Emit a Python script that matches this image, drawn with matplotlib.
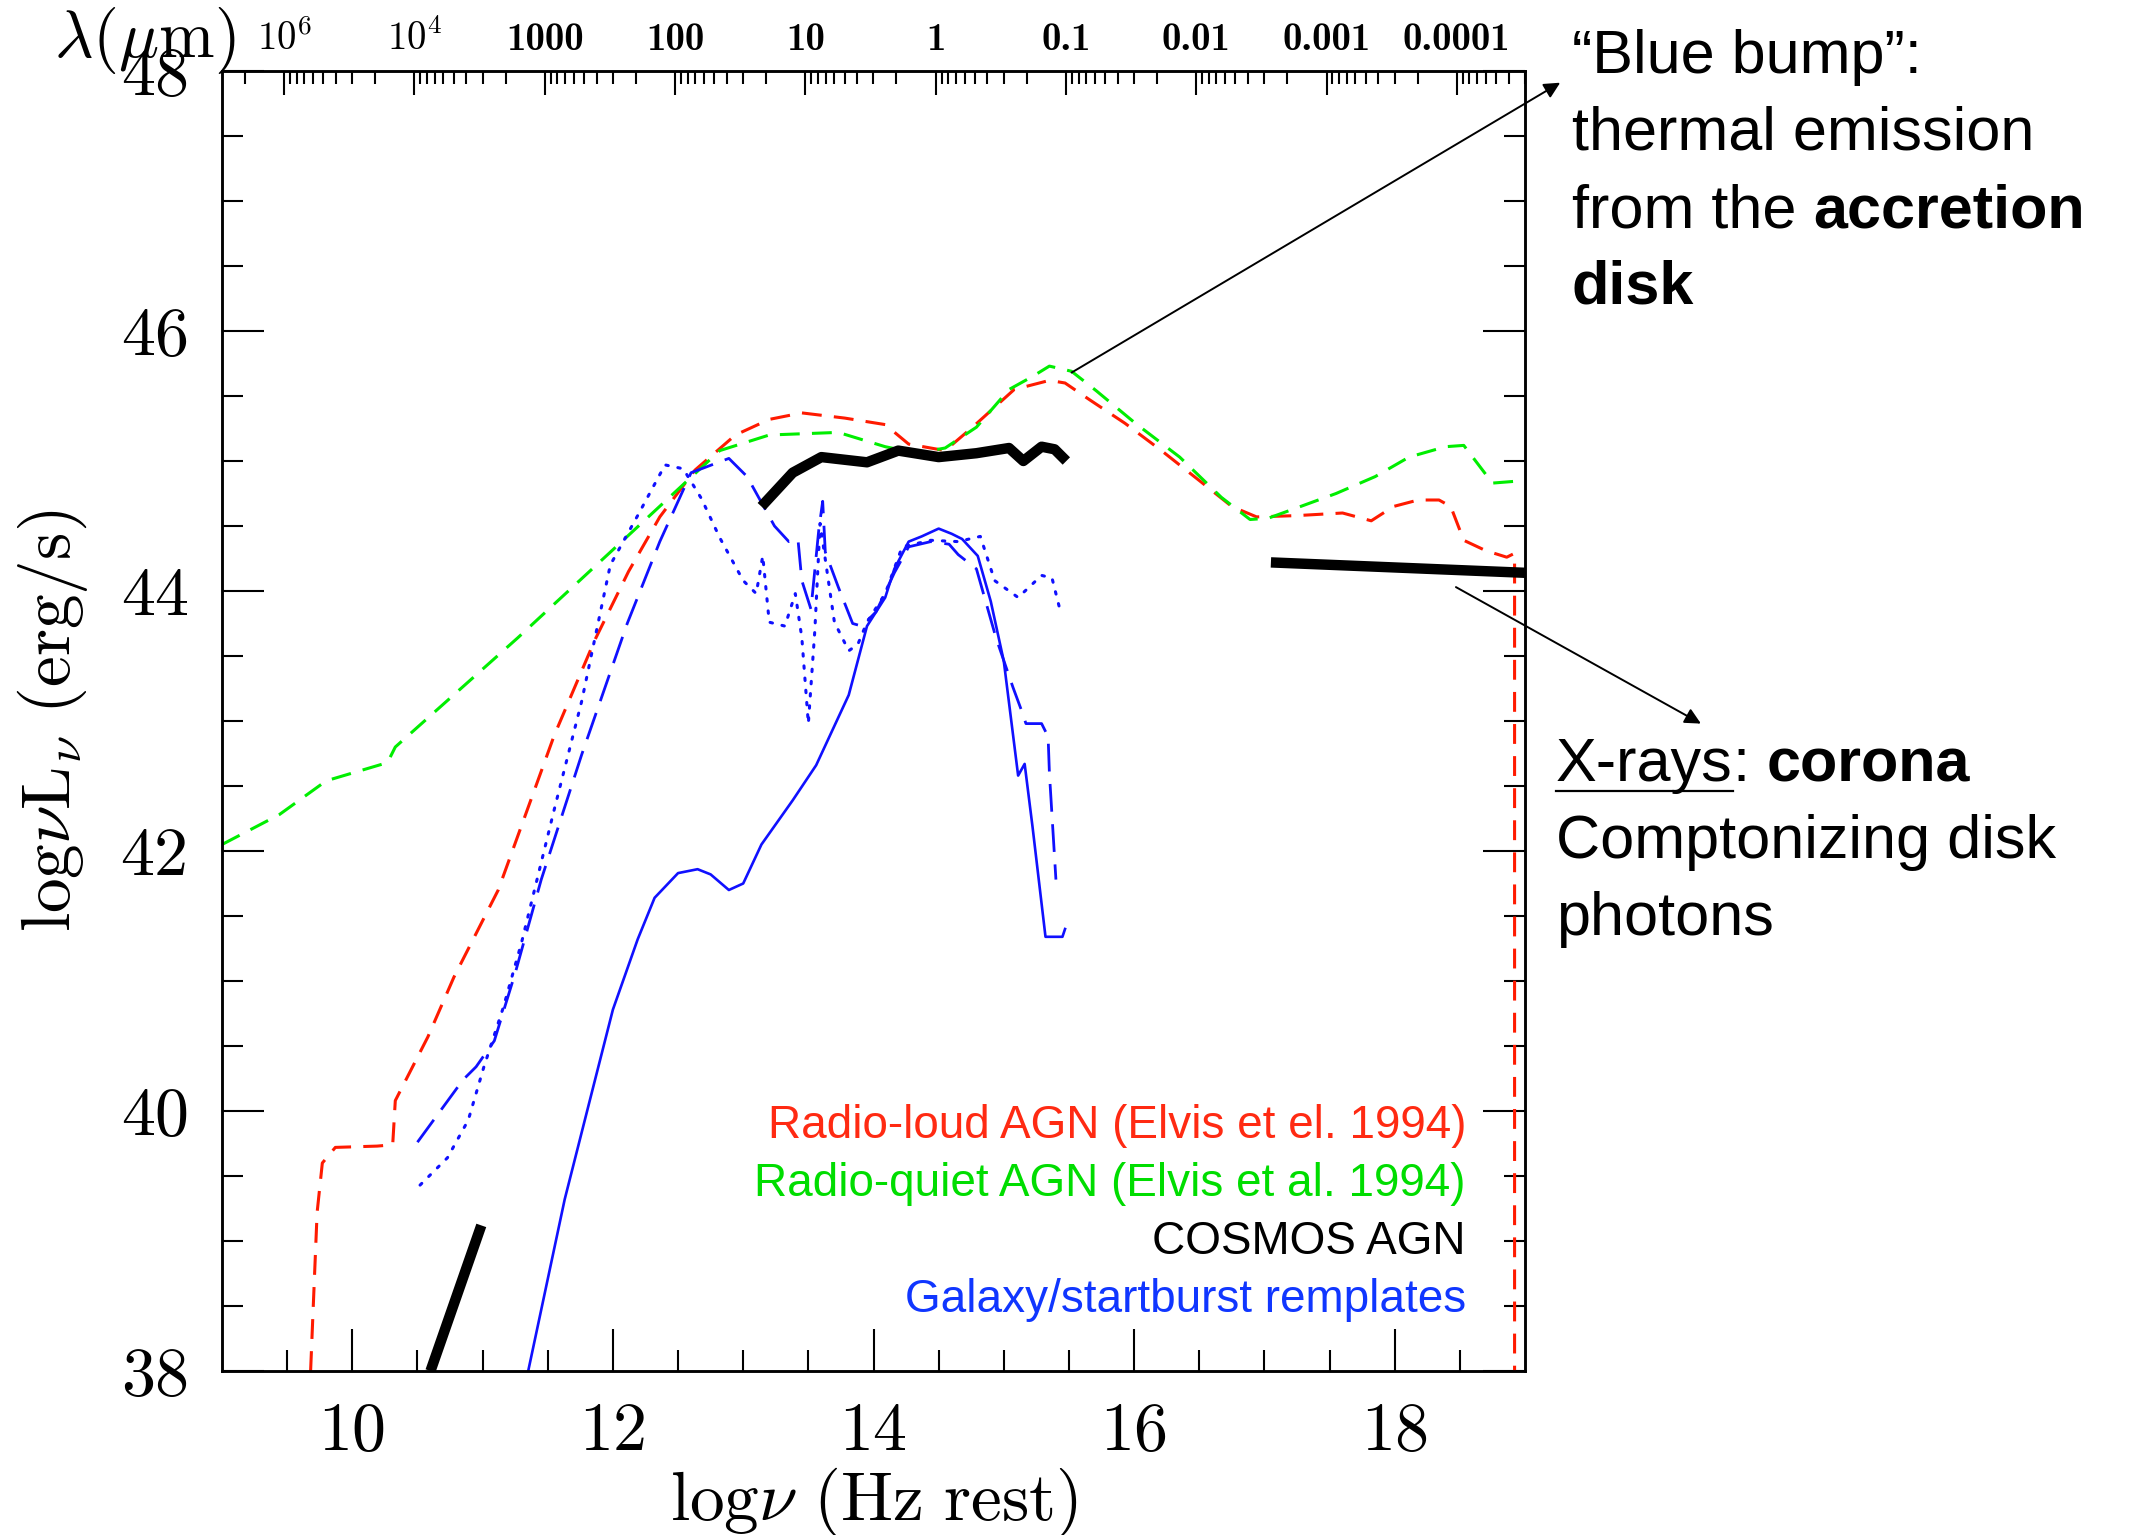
import numpy as np
import matplotlib.pyplot as plt
from matplotlib.lines import Line2D

plt.rcParams['mathtext.fontset'] = 'cm'

W, H, DPI = 2135, 1535, 100
SANS = ['Liberation Sans', 'DejaVu Sans']

# Radio-loud AGN (Elvis et al. 1994)
loud_x = [9.68, 9.73, 9.77, 9.87, 10.19, 10.31, 10.33, 10.58, 10.78, 11.12, 11.55, 11.86,
          12.12, 12.36, 12.63, 12.94, 13.2, 13.45, 13.78, 14.09, 14.27, 14.55, 14.76, 15.08,
          15.35, 15.47, 15.66, 15.93, 16.21, 16.5, 16.75, 16.94, 17.25, 17.6, 17.82, 17.99,
          18.18, 18.34, 18.43, 18.53, 18.7, 18.86, 18.92, 18.92]
loud_y = [38.0, 39.22, 39.6, 39.72, 39.73, 39.74, 40.08, 40.57, 41.03, 41.7, 42.89, 43.62,
          44.15, 44.57, 44.93, 45.2, 45.32, 45.37, 45.33, 45.28, 45.13, 45.08, 45.26, 45.55,
          45.62, 45.6, 45.47, 45.29, 45.08, 44.85, 44.65, 44.57, 44.58, 44.6, 44.54, 44.65,
          44.7, 44.7, 44.65, 44.39, 44.31, 44.26, 44.29, 37.9]

# Radio-quiet AGN (Elvis et al. 1994)
quiet_x = [9.0, 9.44, 9.8, 10.27, 10.33, 11.27, 12.1, 12.82, 13.2, 13.73, 14.09, 14.33,
           14.55, 14.79, 15.04, 15.22, 15.35, 15.52, 15.71, 16.01, 16.35, 16.67, 16.89,
           17.03, 17.25, 17.55, 17.85, 18.11, 18.39, 18.53, 18.75, 19.0]
quiet_y = [42.05, 42.28, 42.54, 42.68, 42.8, 43.64, 44.41, 45.08, 45.2, 45.22, 45.11, 45.06,
           45.1, 45.26, 45.55, 45.65, 45.73, 45.69, 45.54, 45.29, 45.03, 44.72, 44.55,
           44.56, 44.64, 44.75, 44.88, 45.03, 45.11, 45.12, 44.83, 44.85]

# COSMOS AGN (three pieces)
cosmos_radio_x = [10.6, 10.99]
cosmos_radio_y = [38.0, 39.12]
cosmos_opt_x = [13.14, 13.38, 13.6, 13.95, 14.19, 14.5, 14.79, 15.04, 15.15, 15.29, 15.39, 15.48]
cosmos_opt_y = [44.65, 44.91, 45.03, 44.99, 45.08, 45.03, 45.06, 45.1, 45.0, 45.11, 45.09, 45.0]
cosmos_xray_x = [17.05, 19.0]
cosmos_xray_y = [44.22, 44.14]

# Galaxy / starburst templates
gal_solid_x = [11.35, 11.63, 11.83, 12.0, 12.19, 12.32, 12.5, 12.65, 12.75, 12.89, 13.0, 13.14,
               13.38, 13.56, 13.81, 13.95, 14.09, 14.16, 14.27, 14.37, 14.5, 14.6, 14.68, 14.8,
               14.9, 15.0, 15.11, 15.16, 15.22, 15.32, 15.45, 15.47]
gal_solid_y = [38.0, 39.32, 40.11, 40.78, 41.32, 41.64, 41.83, 41.86, 41.82, 41.7, 41.75, 42.05,
               42.39, 42.66, 43.2, 43.73, 43.95, 44.17, 44.38, 44.42, 44.48, 44.44, 44.4, 44.27,
               43.92, 43.46, 42.58, 42.67, 42.19, 41.34, 41.34, 41.4]

gal_dash_x = [10.5, 10.85, 10.95, 11.09, 11.25, 11.45, 11.76, 12.11, 12.36, 12.6, 12.89, 13.03,
              13.24, 13.35, 13.42, 13.45, 13.52, 13.58, 13.61, 13.63, 13.73, 13.84, 13.91, 14.02,
              14.16, 14.27, 14.44, 14.58, 14.65, 14.79, 14.94, 15.07, 15.14, 15.17, 15.29, 15.34,
              15.35, 15.4]
gal_dash_y = [39.76, 40.24, 40.34, 40.54, 41.06, 41.78, 42.74, 43.75, 44.38, 44.91, 45.02, 44.88,
              44.5, 44.38, 44.4, 44.08, 43.86, 44.47, 44.69, 44.3, 44.03, 43.75, 43.73, 43.84,
              44.14, 44.34, 44.38, 44.36, 44.28, 44.17, 43.64, 43.26, 43.07, 42.98, 42.98, 42.88,
              42.6, 41.78]

gal_dot_x = [10.52, 10.73, 10.89, 11.01, 11.16, 11.3, 11.55, 11.76, 11.98, 12.19, 12.4, 12.54,
             12.68, 12.82, 13.0, 13.1, 13.15, 13.2, 13.32, 13.4, 13.45, 13.5, 13.55, 13.59,
             13.7, 13.81, 13.88, 13.95, 14.09, 14.22, 14.44, 14.65, 14.82, 14.93, 15.11, 15.29,
             15.37, 15.43]
gal_dot_y = [39.43, 39.64, 39.93, 40.34, 40.8, 41.3, 42.32, 43.15, 44.2, 44.58, 44.97, 44.94,
             44.71, 44.41, 44.08, 43.98, 44.27, 43.76, 43.73, 43.98, 43.64, 42.98, 43.7, 44.52,
             43.76, 43.54, 43.59, 43.76, 43.98, 44.34, 44.39, 44.38, 44.42, 44.08, 43.95, 44.12,
             44.1, 43.86]

# top axis: wavelength in micron
lam_labels = [r'$\mathbf{10^6}$', r'$\mathbf{10^4}$', '1000', '100', '10', '1',
              '0.1', '0.01', '0.001', '0.0001']
lam_exps = [5, 4, 3, 2, 1, 0, -1, -2, -3, -4]

legend_lines = ['Radio-loud AGN (Elvis et el. 1994)', 'Radio-quiet AGN (Elvis et al. 1994)',
                'COSMOS AGN', 'Galaxy/startburst remplates']
legend_colors = ['#ff2a12', '#00dd00', 'black', '#1036ff']

fig = plt.figure(figsize=(W / DPI, H / DPI), dpi=DPI)
ax = fig.add_axes([222 / W, 1 - 1371 / H, 1303 / W, 1300 / H])

ax.plot(loud_x, loud_y, color='#ff1a00', lw=2.2, dashes=(6.5, 4.0))
ax.plot(quiet_x, quiet_y, color='#00ee00', lw=2.2, dashes=(6.5, 4.0))
ax.plot(gal_dash_x, gal_dash_y, color='#1010ff', lw=2.0, dashes=(10, 4.5))
ax.plot(gal_dot_x, gal_dot_y, color='#1010ff', lw=2.2, dashes=(0.8, 3.2), dash_capstyle='round')
ax.plot(gal_solid_x, gal_solid_y, color='#1010ff', lw=1.9)
for xs, ys in [(cosmos_radio_x, cosmos_radio_y), (cosmos_opt_x, cosmos_opt_y),
               (cosmos_xray_x, cosmos_xray_y)]:
    ax.plot(xs, ys, color='black', lw=7.5, solid_capstyle='butt')

ax.set_xlim(9, 19)
ax.set_ylim(38, 48)
ax.set_xticks(np.arange(10, 19, 2))
ax.set_xticks(np.arange(9.5, 19, 0.5), minor=True)
ax.set_yticks(np.arange(38, 48.1, 2))
ax.set_yticks(np.arange(38.5, 48, 0.5), minor=True)
ax.tick_params(which='both', direction='in', top=False, right=True, width=1.5,
               labelsize=49, labelfontfamily='cmr10')
ax.tick_params(which='major', length=30)
ax.tick_params(which='minor', length=15)
ax.tick_params(axis='y', pad=24)
ax.tick_params(axis='x', pad=22)
for s in ax.spines.values():
    s.set_linewidth(1.8)

ax.set_xlabel(r'${\rm log}\nu\ {\rm (Hz\ rest)}$', fontsize=50, va='center')
ax.xaxis.set_label_coords(0.5, -0.101)
ax.set_ylabel(r'${\rm log}\nu{\rm L}_\nu\ {\rm (erg/s)}$', fontsize=50, va='center')
ax.yaxis.set_label_coords(-0.13, 0.5)

# wavelength axis on top
c_um = np.log10(2.998e14)
top = ax.twiny()
top.set_xlim(9, 19)
top.set_xticks([c_um - e for e in lam_exps])
top.set_xticklabels(lam_labels, family='cmb10')
minor = []
for e in range(-5, 7):
    for m in range(2, 10):
        p = c_um - (e + np.log10(m))
        if 9 < p < 19:
            minor.append(p)
top.set_xticks(minor, minor=True)
top.tick_params(axis='x', which='both', direction='in', width=1.5, labelsize=28, pad=9)
top.tick_params(axis='x', which='major', length=17)
top.tick_params(axis='x', which='minor', length=9)
for s in top.spines.values():
    s.set_linewidth(1.8)

fig.text(54 / W, 1 - 41 / H, r'$\lambda(\mu{\rm m})$', fontsize=48, va='center', ha='left')

# legend as coloured text
for i, (txt, col) in enumerate(zip(legend_lines, legend_colors)):
    fig.text(1466 / W, 1 - (1138 + i * 58) / H, txt, color=col, fontsize=33,
             family=SANS, ha='right', va='baseline')

# annotations
ax.annotate('', xy=(19.27, 47.91), xytext=(15.52, 45.68),
            arrowprops=dict(arrowstyle='-|>', color='black', lw=1.4, mutation_scale=24,
                            shrinkA=0, shrinkB=0), annotation_clip=False)
ax.annotate('', xy=(20.35, 42.98), xytext=(18.47, 44.03),
            arrowprops=dict(arrowstyle='-|>', color='black', lw=1.4, mutation_scale=24,
                            shrinkA=0, shrinkB=0), annotation_clip=False)

renderer = fig.canvas.get_renderer()
FS = 44
space_px = 0.278 * FS * DPI / 72


def rich_line(x_px, base_px, pieces):
    x = x_px
    for txt, bold, under in pieces:
        if txt.startswith(' '):
            x += space_px
            txt = txt.strip()
        t = fig.text(x / W, 1 - base_px / H, txt, fontsize=FS, family=SANS,
                     fontweight='bold' if bold else 'normal', ha='left', va='baseline')
        w = t.get_window_extent(renderer).width
        if under:
            fig.add_artist(Line2D([x / W, (x + w) / W], [1 - (base_px + 10) / H] * 2,
                                  transform=fig.transFigure, color='black', lw=1.6))
        x += w


rich_line(1572, 73, [('\u201cBlue bump\u201d:', False, False)])
rich_line(1572, 150, [('thermal emission', False, False)])
rich_line(1572, 227, [('from the', False, False), (' accretion', True, False)])
rich_line(1572, 304, [('disk', True, False)])

rich_line(1556, 781, [('X-rays', False, True), (':', False, False), (' corona', True, False)])
rich_line(1556, 858, [('Comptonizing disk', False, False)])
rich_line(1556, 935, [('photons', False, False)])

fig.savefig('out.png', dpi=DPI)
